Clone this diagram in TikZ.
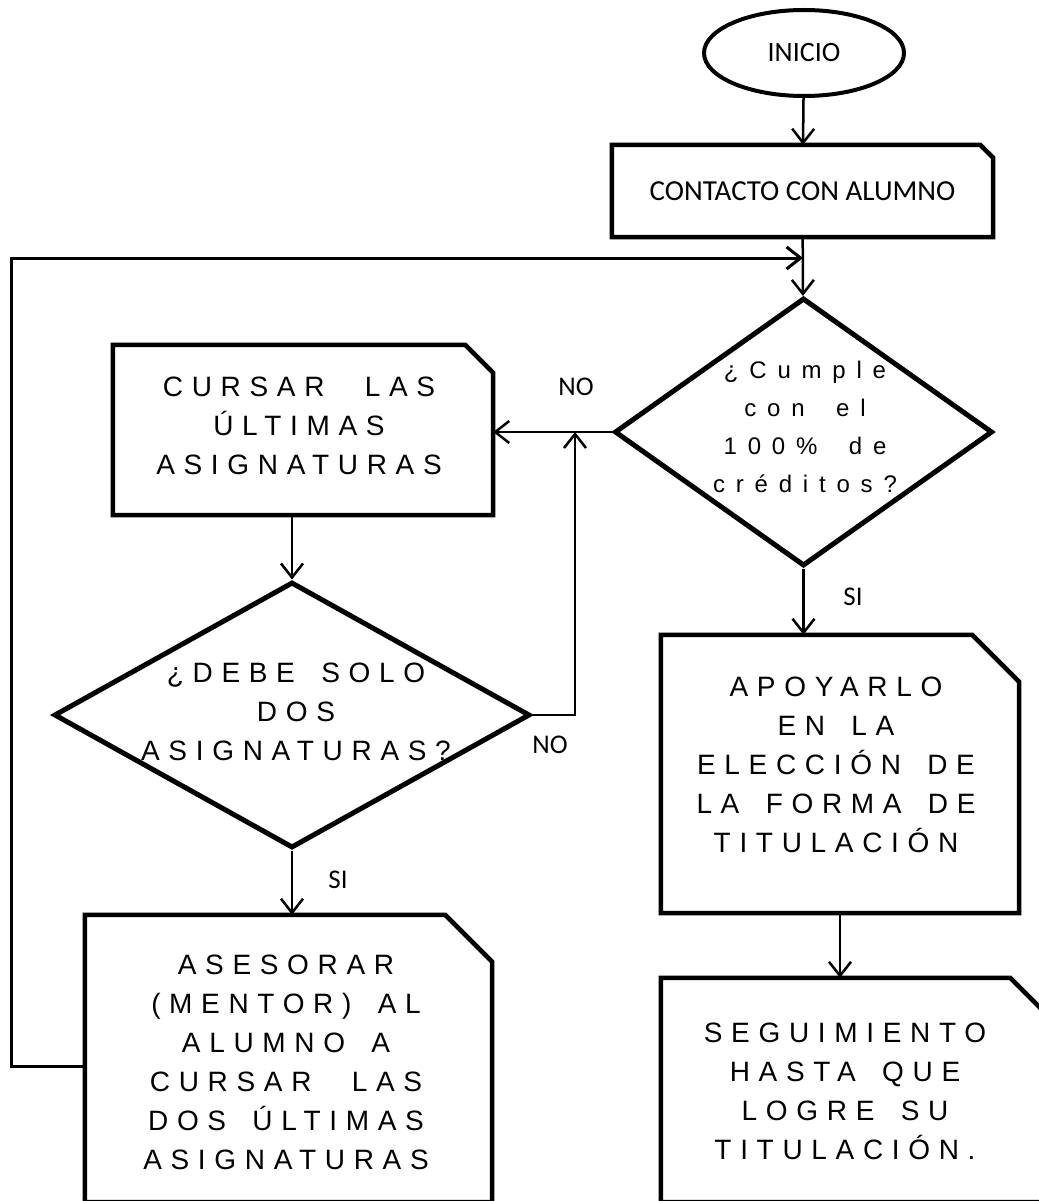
\documentclass[tikz,border=0pt]{standalone}
\usepackage{fontspec}
\setmainfont{Liberation Sans}
\newfontfamily\calibri{Carlito}
\newfontfamily\espaciada[LetterSpace=31,WordSpace=1.6]{Liberation Sans}
\newfontfamily\espaciadab[LetterSpace=45,WordSpace=1.8]{Liberation Sans}
\usetikzlibrary{shapes.geometric,arrows.meta}

\tikzset{
  caja/.style={draw=none, inner sep=0pt},
  borde/.style={line width=4.5pt, line join=miter},
  decision/.style={diamond, draw, line width=5pt, inner sep=0pt},
  texto/.style={align=center, inner sep=0pt, font={\espaciada\fontsize{28}{39}\selectfont}},
  textob/.style={align=center, inner sep=0pt, font={\espaciadab\fontsize{24}{38}\selectfont}},
  etiqueta/.style={inner sep=0pt, font={\calibri\fontsize{27}{30}\selectfont}},
  flecha/.style={-{Straight Barb[length=14pt,width=22pt]}, line width=2.5pt},
}
% caja con la esquina superior derecha cortada
\newcommand{\recorte}[2]{\draw[borde] (#1.south west) -- (#1.north west) -- ([xshift=-#2]#1.north east) -- ([yshift=-#2]#1.north east) -- (#1.south east) -- cycle;}

\begin{document}
\begin{tikzpicture}[x=1pt, y=-1pt, line cap=butt]
	\useasboundingbox[fill=white] (0,0) rectangle (1038,1201);
	% inicio y primera caja
	\node[ellipse, draw, line width=4pt, minimum width=200pt, minimum height=86pt, font={\calibri\fontsize{28}{30}\selectfont}] (inicio) at (804,53) {INICIO};
	\node[caja, minimum width=381pt, minimum height=92pt, font={\calibri\fontsize{29}{30}\selectfont}] (contacto) at (802.5,191) {CONTACTO CON ALUMNO};
	\recorte{contacto}{13pt}
	% decisiones
	\node[decision, minimum width=378pt, minimum height=268pt] (cumple) at (803.5,432) {};
	\node[textob] (txt-cumple) at (805,427) {¿Cumple\\con el\\100\% de\\créditos?};
	\node[decision, minimum width=476pt, minimum height=266pt] (debe) at (292,715) {};
	\node[texto] (txt-debe) at (296,712) {¿DEBE SOLO\\DOS\\ASIGNATURAS?};
	% cajas
	\node[caja, minimum width=380pt, minimum height=170pt] (cursar) at (303,430) {};
	\recorte{cursar}{28pt}
	\node[texto] (txt-cursar) at (299,426) {CURSAR \enspace LAS\\ÚLTIMAS\\ASIGNATURAS};
	\node[caja, minimum width=407pt, minimum height=287pt] (asesorar) at (288.5,1058.5) {};
	\recorte{asesorar}{47pt}
	\node[texto] (txt-asesorar) at (286,1062) {ASESORAR\\(MENTOR) AL\\ALUMNO A\\CURSAR \enspace LAS\\DOS ÚLTIMAS\\ASIGNATURAS};
	\node[caja, minimum width=358pt, minimum height=278pt] (apoyar) at (840,774) {};
	\recorte{apoyar}{47pt}
	\node[texto] (txt-apoyar) at (836,765) {APOYARLO\\EN LA\\ELECCIÓN DE\\LA FORMA DE\\TITULACIÓN};
	\node[caja, minimum width=396pt, minimum height=224pt] (seguimiento) at (859,1090) {};
	\recorte{seguimiento}{47pt}
	\node[texto] (txt-seguimiento) at (845,1091) {SEGUIMIENTO\\HASTA QUE\\LOGRE SU\\TITULACIÓN.};
	% etiquetas
	\node[etiqueta] (no-a) at (576,387) {NO};
	\node[etiqueta] (no-b) at (550,745) {NO};
	\node[etiqueta] (si-a) at (853,597) {SI};
	\node[etiqueta] (si-b) at (338,880) {SI};
	\coordinate (retorno) at (803,258);
	\coordinate (cruce) at (575,432);
	% flechas
	\draw[flecha] (inicio) -- (contacto);
	\draw[flecha] (contacto) -- (cumple);
	\draw[flecha] (cumple.west) -- (cumple.west -| cursar.east);
	\draw[flecha] (debe.north |- cursar.south) -- (debe.north);
	\draw[flecha] (debe.east) -| (cruce);
	\draw[flecha] (debe.south) -- (debe.south |- asesorar.north);
	\draw[flecha] (cumple.south) -- (cumple.south |- apoyar.north);
	\draw[flecha] (apoyar.south) -- (apoyar.south |- seguimiento.north);
	\draw[flecha, line width=3pt] ([yshift=-8pt]asesorar.west) -- ++(-73,0) |- (retorno);
\end{tikzpicture}
\end{document}
